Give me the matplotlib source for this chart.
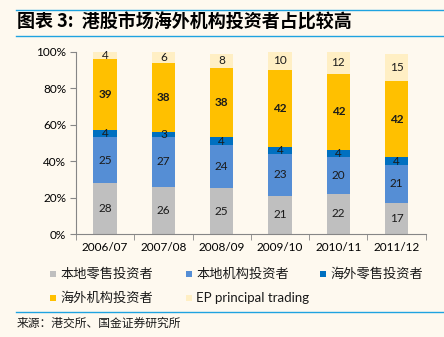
import matplotlib
matplotlib.use("Agg")
import matplotlib.pyplot as plt
from matplotlib.patches import Rectangle
from matplotlib.lines import Line2D
import numpy as np

plt.rcParams['font.family'] = ['Lato', 'Noto Sans CJK SC', 'DejaVu Sans']

periods = ["2006/07", "2007/08", "2008/09", "2009/10", "2010/11", "2011/12"]
series_names = ["本地零售投资者", "本地机构投资者", "海外零售投资者",
                "海外机构投资者", "EP principal trading"]
local_retail = [28, 26, 25, 21, 22, 17]
local_inst = [25, 27, 24, 23, 20, 21]
overseas_retail = [4, 3, 4, 4, 4, 4]
overseas_inst = [39, 38, 38, 42, 42, 42]
ep_trading = [4, 6, 8, 10, 12, 15]
y_ticks = [0, 20, 40, 60, 80, 100]

colors = ["#BFBFBF", "#558ED5", "#0070C0", "#FFC000", "#FFEFC4"]
bg = "#FEF9EF"
cjk = ['Noto Sans CJK SC', 'DejaVu Sans']

fig = plt.figure(figsize=(4.44, 3.37), dpi=100, facecolor=bg)
ax = fig.add_axes([0.171, 0.3056, 0.788, 0.541], facecolor=bg)

x = np.arange(len(periods))
bottom = np.zeros(len(periods))
all_series = [local_retail, local_inst, overseas_retail, overseas_inst, ep_trading]
for i, (vals, c) in enumerate(zip(all_series, colors)):
    vals = np.array(vals, dtype=float)
    ax.bar(x, vals, 0.4, bottom=bottom, color=c, edgecolor='none', zorder=2)
    for xi, b, v in zip(x, bottom, vals):
        ax.text(xi, b + v / 2, f"{int(v)}", ha='center', va='center',
                fontsize=8.5, color='#1a1a1a',
                fontweight='bold' if i == 3 else 'normal', zorder=3)
    bottom += vals

ax.set_xlim(-0.5, len(periods) - 0.5)
ax.set_ylim(0, 100)
ax.set_yticks(y_ticks)
ax.set_yticklabels([f"{t}%" for t in y_ticks], fontsize=8.5)
ax.set_xticks(x)
ax.set_xticklabels(periods, fontsize=8.5)
ax.tick_params(axis='x', length=0, pad=6)
ax.set_xticks(np.arange(-0.5, len(periods)), minor=True)
ax.tick_params(axis='x', which='minor', length=4, color='#868686', direction='out')
ax.tick_params(axis='y', length=4, color='#868686', direction='out', pad=3)
for s in ['top', 'right']:
    ax.spines[s].set_visible(False)
for s in ['left', 'bottom']:
    ax.spines[s].set_color('#868686')
    ax.spines[s].set_linewidth(0.8)

# Title and rules
line_color = "#1FA3E0"
fig.add_artist(Line2D([16 / 444, 1.0], [1 - 10 / 337] * 2, color=line_color, lw=1.0))
fig.add_artist(Line2D([16 / 444, 1.0], [1 - 36 / 337] * 2, color=line_color, lw=1.0))
fig.text(17 / 444, 1 - 22 / 337, "图表 3:  港股市场海外机构投资者占比较高",
         family=['Noto Sans CJK SC', 'DejaVu Sans'], fontsize=13, fontweight='bold',
         style='italic', va='center', ha='left')

# Legend
legend_pos = [(53, 274), (189, 274), (323, 274), (53, 298), (189, 298)]
for (px, py), name, c in zip(legend_pos, series_names, colors):
    fig.add_artist(Rectangle(((px - 3) / 444, 1 - (py + 3) / 337), 6 / 444, 6 / 337,
                             transform=fig.transFigure, facecolor=c, edgecolor='none'))
    fig.text((px + 7) / 444, 1 - py / 337, name, family=['Lato', 'Noto Sans CJK SC'],
             fontsize=9.5, va='center', ha='left', color='#1a1a1a')

fig.add_artist(Line2D([16 / 444, 1.0], [1 - 312 / 337] * 2, color=line_color, lw=1.0))
fig.text(17 / 444, 1 - 323 / 337, "来源：港交所、国金证券研究所",
         family=cjk, fontsize=8.5, va='center', ha='left', color='#1a1a1a')

fig.savefig("out.png", dpi=100, facecolor=bg)
